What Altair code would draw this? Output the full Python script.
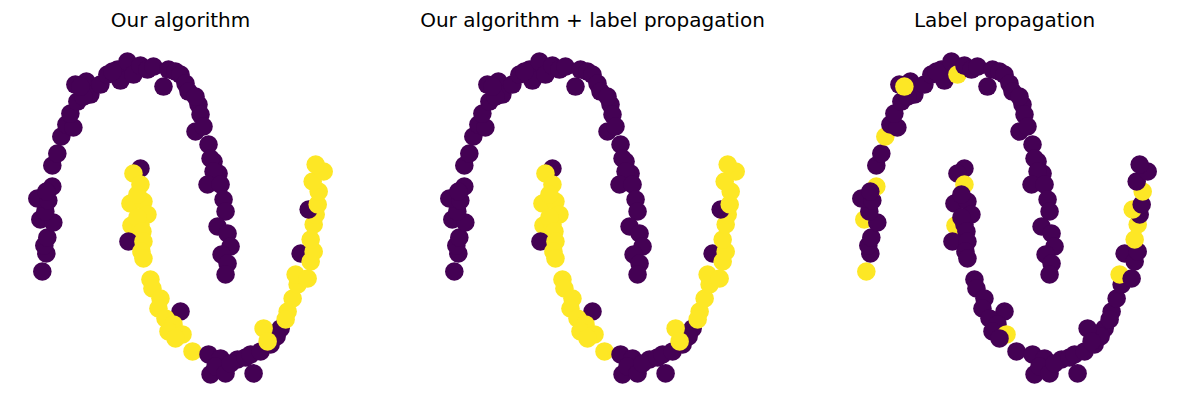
import altair as alt
import pandas as pd

# Two-moons sample: upper moon first, then lower moon.
x = [
    -0.88, -0.84, -0.86, -0.83, -0.90, -0.77, -0.85, -0.93, -0.82, -0.78,
    -0.84, -0.78, -0.73, -0.69, -0.64, -0.57, -0.60, -0.53, -0.44, -0.40,
    -0.47, -0.30, -0.23, -0.13, -0.10, -0.03, 0.03, 0.10, 0.17, 0.23,
    0.33, 0.38, 0.45, 0.50, 0.55, 0.58, 0.68, 0.65, 0.70, 0.65,
    0.73, 0.78, 0.83, 0.88, 0.80, 0.83, 0.77, 0.90, 0.93, 0.95,
    0.87, 0.97, 1.00, 0.91, 0.97, 0.95, -0.18, -0.55, -0.50,
    # lower moon
    0.10, 0.03, 0.10, 0.00, 0.13, 0.07, 0.17, 0.01, 0.10, 0.07,
    0.12, -0.02, 0.13, 0.11, 0.13, 0.20, 0.22, 0.30, 0.28, 0.50,
    0.35, 0.43, 0.38, 0.52, 0.45, 0.62, 0.78, 0.80, 0.90, 0.85,
    0.95, 1.07, 1.00, 1.15, 1.20, 1.23, 1.30, 1.40, 1.50, 1.46,
    1.33, 1.37, 1.57, 1.55, 1.62, 1.67, 1.65, 1.77, 1.70, 1.80,
    1.83, 1.80, 1.83, 1.85, 1.78, 1.87, 1.88, 1.82, 1.93, 1.85,
]
y = [
    -0.025, 0.065, 0.105, 0.145, 0.235, 0.22, 0.275, 0.34, 0.33, 0.40,
    0.375, 0.505, 0.565, 0.65, 0.71, 0.695, 0.765, 0.825, 0.925, 0.86,
    0.85, 0.91, 0.96, 0.985, 0.93, 1.025, 0.96, 1.005, 0.985, 1.00,
    0.90, 0.985, 0.975, 0.96, 0.915, 0.875, 0.81, 0.85, 0.76, 0.675,
    0.70, 0.61, 0.525, 0.465, 0.54, 0.475, 0.41, 0.41, 0.335, 0.275,
    0.20, 0.165, 0.10, 0.06, 0.015, -0.04, 0.975, 0.91, 0.90,
    # lower moon
    0.49, 0.465, 0.41, 0.315, 0.325, 0.36, 0.26, 0.205, 0.21, 0.245,
    0.175, 0.125, 0.125, 0.075, 0.04, -0.065, -0.11, -0.16, -0.21, -0.225,
    -0.26, -0.29, -0.325, -0.34, -0.36, -0.425, -0.44, -0.54, -0.46, -0.50,
    -0.535, -0.465, -0.485, -0.455, -0.44, -0.535, -0.425, -0.39, -0.31, -0.35,
    -0.31, -0.375, -0.225, -0.265, -0.16, -0.09, -0.04, -0.06, 0.065, 0.025,
    0.075, 0.135, 0.21, 0.26, 0.285, 0.31, 0.375, 0.425, 0.475, 0.51,
]

labels_ours = [0] * 59 + [
    0, 1, 1, 1, 1, 1, 1, 1, 1, 1,
    1, 0, 1, 1, 1, 1, 1, 1, 1, 0,
    1, 1, 1, 1, 1, 1, 0, 0, 0, 0,
    0, 0, 0, 0, 0, 0, 0, 0, 0, 0,
    1, 1, 1, 1, 1, 1, 1, 1, 0, 1,
    1, 1, 1, 1, 0, 1, 1, 1, 1, 1,
]
labels_combined = list(labels_ours)  # identical to "Our algorithm" in the figure
labels_lp = [
    1, 0, 0, 0, 1, 0, 0, 0, 0, 1,
    0, 0, 0, 1, 0, 0, 0, 0, 0, 0,
    0, 0, 0, 0, 0, 0, 1, 0, 0, 0,
    0, 0, 0, 0, 0, 0, 0, 0, 0, 0,
    0, 0, 0, 0, 0, 0, 0, 0, 0, 0,
    0, 0, 0, 0, 0, 0, 0, 0, 1,
    # lower moon
    0, 0, 1, 0, 0, 0, 0, 1, 0, 0,
    0, 0, 0, 0, 0, 0, 0, 0, 0, 0,
    0, 0, 0, 1, 0, 0, 0, 0, 0, 0,
    0, 0, 0, 0, 0, 0, 0, 0, 0, 0,
    0, 0, 0, 0, 0, 0, 1, 0, 0, 0,
    0, 1, 1, 0, 1, 0, 1, 0, 0, 0,
]

titles = ["Our algorithm", "Our algorithm + label propagation", "Label propagation"]
VIRIDIS_ENDS = ["#440154", "#fde725"]


def panel(labels, title):
    df = pd.DataFrame({"x": x, "y": y, "label": labels, "idx": range(len(x))})
    return (
        alt.Chart(
            df,
            title=alt.TitleParams(
                title,
                fontSize=20,
                font="DejaVu Sans",
                fontWeight="normal",
                color="black",
                anchor="middle",
                baseline="alphabetic",
                offset=-1,
            ),
        )
        .mark_circle(size=345, opacity=1)
        .encode(
            x=alt.X("x:Q", scale=alt.Scale(domain=[-1.073, 2.073], nice=False, zero=False), axis=None),
            y=alt.Y("y:Q", scale=alt.Scale(domain=[-0.618, 1.103], nice=False, zero=False), axis=None),
            color=alt.Color("label:N", scale=alt.Scale(domain=[0, 1], range=VIRIDIS_ENDS), legend=None),
            order=alt.Order("idx:Q"),
        )
        .properties(width=315, height=344)
    )


chart = (
    alt.hconcat(
        panel(labels_ours, titles[0]),
        panel(labels_combined, titles[1]),
        panel(labels_lp, titles[2]),
        spacing=97,
        bounds="flush",
    )
    .properties(padding={"left": 15, "top": 3, "right": 0, "bottom": 0})
    .configure_view(stroke=None)
)

chart.save("out.html", embed_options={"renderer": "svg", "actions": False})
